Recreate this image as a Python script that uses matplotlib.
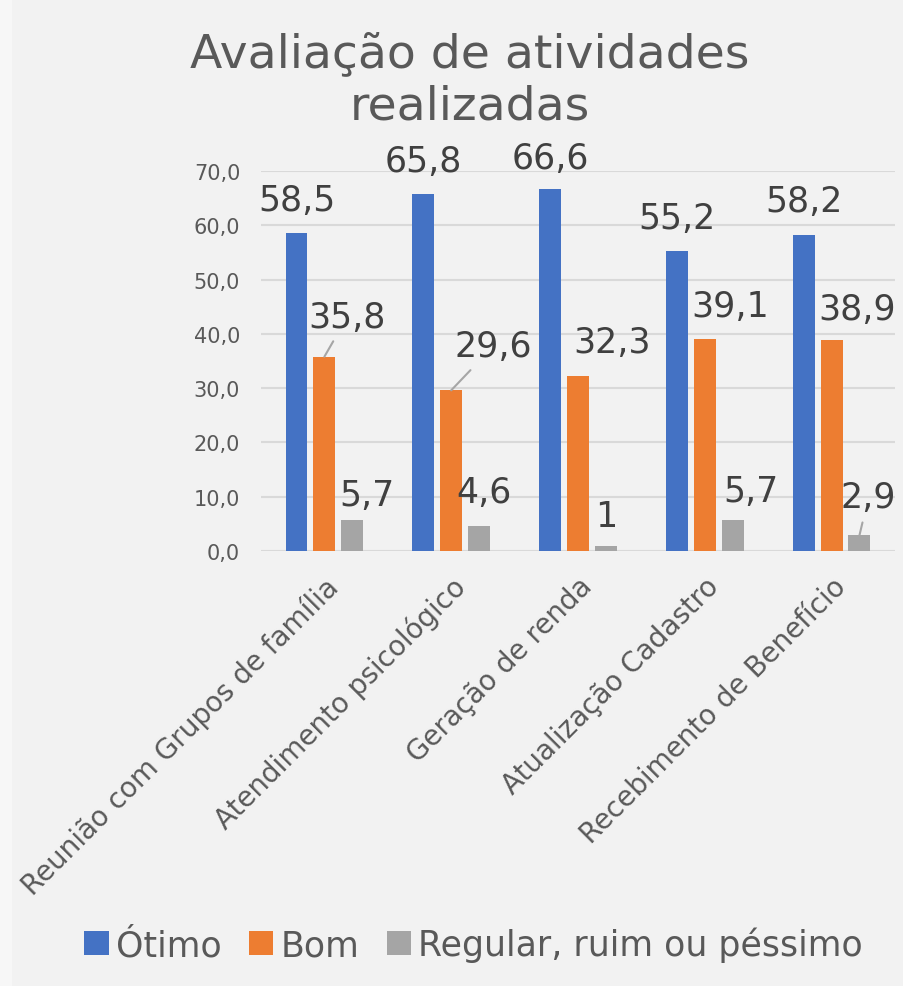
import numpy as np
import matplotlib
matplotlib.use("Agg")
import matplotlib.pyplot as plt
from matplotlib.patches import Rectangle
from matplotlib.ticker import FuncFormatter

categorias = ["Reunião com Grupos de família", "Atendimento psicológico",
              "Geração de renda", "Atualização Cadastro", "Recebimento de Benefício"]
otimo = [58.5, 65.8, 66.6, 55.2, 58.2]
bom = [35.8, 29.6, 32.3, 39.1, 38.9]
regular = [5.7, 4.6, 1, 5.7, 2.9]
series_nomes = ["Ótimo", "Bom", "Regular, ruim ou péssimo"]
cores = ["#4472c4", "#ed7d31", "#a5a5a5"]

# deslocamento dos rótulos (pixels) e se há linha de chamada
offsets = [
    [(0, 33), (0, 33), (0, 31), (0, 33), (0, 34)],
    [(23, 40), (42, 44), (34, 34), (25, 33), (26, 31)],
    [(15, 25), (5, 34), (0, 30), (18, 29), (9, 38)],
]
leaders = [(1, 0), (1, 1), (2, 4)]

plt.rcParams["font.family"] = ["DejaVu Sans"]

fig = plt.figure(figsize=(9.04, 9.87), dpi=100, facecolor="#f2f2f2")
# bordinha clara a esquerda
fig.patches.append(Rectangle((0, 0), 12 / 904, 1, transform=fig.transFigure,
                             facecolor="#f7f7f7", edgecolor="none", zorder=0))

ax = fig.add_axes([0.2887, 0.4407, 0.7013, 0.385])
ax.set_facecolor("#f2f2f2")

x = np.arange(len(categorias))
passo = 0.22
largura = 0.173
for k, vals in enumerate([otimo, bom, regular]):
    xs = x + (k - 1) * passo
    ax.bar(xs, vals, width=largura, color=cores[k], label=series_nomes[k], zorder=3)
    for i, v in enumerate(vals):
        txt = f"{v:g}".replace(".", ",")
        arrow = None
        if (k, i) in leaders:
            arrow = dict(arrowstyle="-", color="#a6a6a6", lw=1.5, shrinkA=4, shrinkB=0)
        ax.annotate(txt, xy=(xs[i], v), xytext=offsets[k][i], textcoords="offset pixels",
                    ha="center", va="center", fontsize=25, color="#404040",
                    arrowprops=arrow, zorder=4)

ax.set_ylim(0, 70)
ax.set_xlim(-0.5, len(categorias) - 0.5)
ax.set_yticks(np.arange(0, 71, 10))
ax.yaxis.set_major_formatter(FuncFormatter(lambda v, p: f"{v:.1f}".replace(".", ",")))
ax.grid(axis="y", color="#d9d9d9", lw=1.5, zorder=0)
for s in ax.spines.values():
    s.set_visible(False)
ax.tick_params(axis="y", length=0, pad=15, labelsize=15, labelcolor="#595959")
ax.tick_params(axis="x", length=0, pad=15, labelsize=20, labelcolor="#595959")
ax.set_xticks(x)
ax.set_xticklabels(categorias, rotation=45, ha="right", rotation_mode="anchor")

fig.text(0.52, 0.918, "Avaliação de atividades\nrealizadas", ha="center", va="center",
         fontsize=34, color="#595959", linespacing=1.2)

fig.legend(loc="center", bbox_to_anchor=(0.524, 0.042), ncol=3, frameon=False,
           fontsize=25, labelcolor="#595959", handlelength=0.7, handleheight=0.7,
           handletextpad=0.2, columnspacing=0.8)

fig.savefig("out.png", dpi=100, facecolor=fig.get_facecolor())
